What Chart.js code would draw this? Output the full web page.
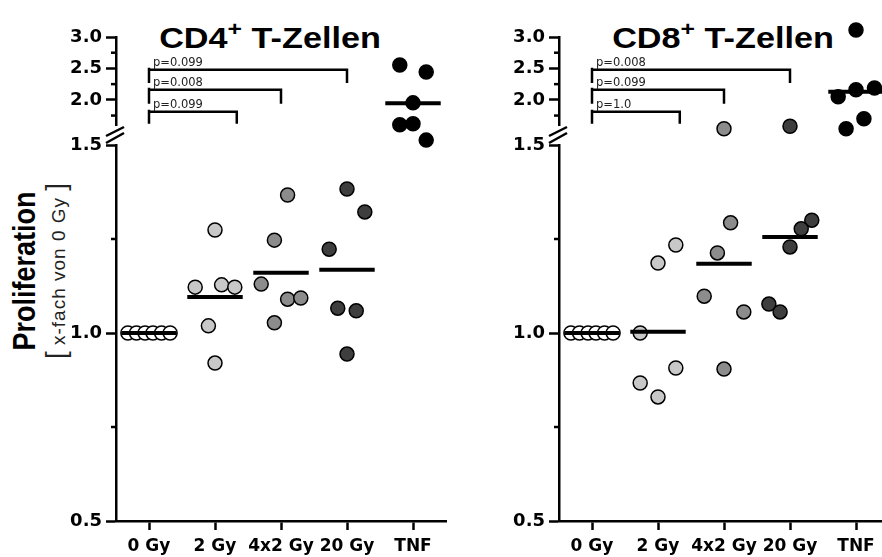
<!DOCTYPE html>
<html>
<head>
<meta charset="utf-8">
<script src="https://cdn.jsdelivr.net/npm/chart.js@4.4.1/dist/chart.umd.min.js"></script>
<style>
  body { margin: 0; background: #fff; width: 882px; height: 557px; overflow: hidden; position: relative; font-family: "Liberation Sans", Arial, sans-serif; color: #000; }
  canvas { position: absolute; top: 0; }
  .title { position: absolute; top: 15px; font-size: 29px; line-height: 29px; font-weight: bold; white-space: nowrap; transform: translateX(-50%) scaleX(1.18); }
  .title sup { font-size: 21px; position: relative; top: -1px; }
  .rot { position: absolute; white-space: nowrap; line-height: 1; transform: translate(-50%, -50%) rotate(-90deg) scaleY(1.18); }
  .br { font-size: 28px; font-weight: normal; letter-spacing: 0; }
</style>
</head>
<body>
<div class="title" style="left:270px">CD4<sup>+</sup> T-Zellen</div>
<div class="title" style="left:723px">CD8<sup>+</sup> T-Zellen</div>
<div class="rot" style="left:25px; top:271px; font-size:27px; font-weight:bold;">Proliferation</div>
<div class="rot" style="left:56px; top:271px; font-size:19px; letter-spacing:1px; color:#222; transform: translate(-50%, -50%) rotate(-90deg);"><span class="br">[</span> x-fach von 0 Gy <span class="br">]</span></div>

<canvas id="cd4Low" width="460" height="557" style="left:0"></canvas>
<canvas id="cd4Up" width="460" height="160" style="left:0"></canvas>
<canvas id="cd8Low" width="460" height="557" style="left:443px"></canvas>
<canvas id="cd8Up" width="460" height="160" style="left:443px"></canvas>

<script>
const categories = ["0 Gy", "2 Gy", "4x2 Gy", "20 Gy", "TNF"];
const groupFill = ["#ffffff", "#c8c8c8", "#8c8c8c", "#3e3e3e", "#000000"];

/* CD4 values (x-fach von 0 Gy), one row per group */
const cd4Values = [
  [1, 1, 1, 1, 1, 1],
  [1.274, 1.122, 1.128, 1.122, 1.019, 0.92],
  [1.367, 1.247, 1.13, 1.09, 1.093, 1.027],
  [1.383, 1.322, 1.223, 1.066, 1.059, 0.944],
  [2.556, 2.444, 1.952, 1.603, 1.619, 1.513]
];
const cd4Jitter = [
  [-0.32, -0.19, -0.06, 0.06, 0.19, 0.32],
  [0, -0.3, 0.1, 0.3, -0.1, 0],
  [0.1, -0.1, -0.3, 0.1, 0.3, -0.1],
  [0, 0.27, -0.27, -0.14, 0.14, 0],
  [-0.2, 0.2, 0, -0.2, 0, 0.2]
];
const cd4Means = [1.0, 1.096, 1.16, 1.168, 1.948];
const cd4PValues = ["p=0.099", "p=0.008", "p=0.099"];

/* CD8 values */
const cd8Values = [
  [1, 1, 1, 1, 1, 1],
  [1.0, 1.186, 1.234, 0.907, 0.867, 0.83],
  [1.293, 1.213, 1.098, 1.056, 0.904, 1.54],
  [1.30, 1.277, 1.229, 1.077, 1.056, 1.58],
  [3.11, 2.05, 2.16, 2.19, 1.54, 1.70]
];
const cd8Jitter = [
  [-0.32, -0.19, -0.06, 0.06, 0.19, 0.32],
  [-0.27, 0, 0.27, 0.27, -0.27, 0],
  [0.1, -0.1, -0.3, 0.3, 0, 0],
  [0.33, 0.17, 0, -0.32, -0.15, 0],
  [0, -0.27, 0, 0.28, -0.15, 0.12]
];
const cd8Means = [1.0, 1.003, 1.184, 1.255, 2.13];
const cd8PValues = ["p=0.008", "p=0.099", "p=1.0"];

/* comparison brackets, all from 0 Gy */
const bracketEnd = [3, 2, 1.33];
const bracketLevel = [2.48, 2.16, 1.81];
const bracketFoot = [2.27, 1.94, 1.62];

/* axis ticks */
const lowTicks = [0.5, 0.75, 1, 1.25, 1.5];
const lowLabels = [0.5, 1, 1.5];
const upTicks = [1.75, 2, 2.25, 2.5, 2.75, 3];
const upLabels = [2, 2.5, 3];
const breakAt = 1.525;

Chart.defaults.font.family = "'DejaVu Sans', sans-serif";
Chart.defaults.color = "#000";

function scatterSets(values, jitter, upper) {
  return values.map((vals, i) => ({
    data: vals.map((v, j) => ({ x: i + jitter[i][j], y: v }))
              .filter(p => upper ? p.y > breakAt : p.y <= breakAt),
    backgroundColor: groupFill[i],
    borderColor: "#000",
    borderWidth: 1.5,
    pointRadius: 7,
    clip: false,
    order: 2
  }));
}

function meanSets(means, upper) {
  return means.map((m, i) => ({
    data: (upper ? m > breakAt : m <= breakAt) ? [{ x: i - 0.42, y: m }, { x: i + 0.42, y: m }] : [],
    showLine: true,
    pointRadius: 0,
    borderColor: "#000",
    borderWidth: 4,
    borderCapStyle: "butt",
    clip: false,
    order: 1
  }));
}

function yAxis(min, max, ticks, labels) {
  return {
    type: "linear", min, max,
    afterBuildTicks: s => { s.ticks = ticks.map(v => ({ value: v })); },
    afterFit: s => { s.width = 116; },
    ticks: {
      autoSkip: false, padding: 4,
      font: { size: 18, weight: "bold" },
      callback: v => labels.includes(v) ? v.toFixed(1) : ""
    },
    grid: {
      drawOnChartArea: false, tickLength: 10, tickWidth: 2.5, color: "#000",
      tickColor: c => labels.includes(c.tick.value) ? "#000" : "rgba(0,0,0,0)"
    },
    border: { color: "#000", width: 2.5 }
  };
}

/* short minor ticks */
const minorTicks = {
  id: "minorTicks",
  afterDraw(chart) {
    const s = chart.scales.y, ctx = chart.ctx;
    ctx.save();
    ctx.strokeStyle = "#000";
    ctx.lineWidth = 2.5;
    s.ticks.forEach(t => {
      if (t.label !== "") return;
      const y = s.getPixelForValue(t.value);
      ctx.beginPath();
      ctx.moveTo(s.right - 5, y);
      ctx.lineTo(s.right, y);
      ctx.stroke();
    });
    ctx.restore();
  }
};

/* axis break marks */
const axisBreak = {
  id: "axisBreak",
  afterDraw(chart) {
    const ctx = chart.ctx, x = chart.chartArea.left, top = chart.scales.y.top;
    ctx.save();
    ctx.strokeStyle = "#000";
    ctx.lineWidth = 2.5;
    [[9, 18], [2, 12]].forEach(([a, b]) => {
      ctx.beginPath();
      ctx.moveTo(x - 10, top - a);
      ctx.lineTo(x + 8, top - b);
      ctx.stroke();
    });
    ctx.restore();
  }
};

function bracketPlugin(labels) {
  return {
    id: "brackets",
    afterDatasetsDraw(chart) {
      const ctx = chart.ctx, xs = chart.scales.x, ys = chart.scales.y;
      ctx.save();
      ctx.strokeStyle = "#000";
      ctx.fillStyle = "#222";
      ctx.lineWidth = 2.5;
      ctx.font = "11.5px 'DejaVu Sans'";
      ctx.textBaseline = "alphabetic";
      labels.forEach((lab, i) => {
        const x0 = xs.getPixelForValue(0), x1 = xs.getPixelForValue(bracketEnd[i]);
        const y = ys.getPixelForValue(bracketLevel[i]), f = ys.getPixelForValue(bracketFoot[i]);
        ctx.beginPath();
        ctx.moveTo(x0, f);
        ctx.lineTo(x0, y - 2);
        ctx.moveTo(x0, y);
        ctx.lineTo(x1, y);
        ctx.lineTo(x1, f);
        ctx.stroke();
        ctx.fillText(lab, x0 + 4, y - 4);
      });
      ctx.restore();
    }
  };
}

function lowerChart(id, values, jitter, means) {
  return new Chart(document.getElementById(id), {
    type: "scatter",
    data: { datasets: meanSets(means, false).concat(scatterSets(values, jitter, false)) },
    options: {
      responsive: false, animation: false, events: [],
      layout: { padding: { left: 0, top: 145, right: 14, bottom: 0 } },
      plugins: { legend: { display: false }, tooltip: { enabled: false } },
      scales: {
        x: {
          type: "linear", min: -0.5, max: 4.5,
          afterBuildTicks: s => { s.ticks = categories.map((c, i) => ({ value: i })); },
          afterFit: s => { s.height = 36; },
          ticks: { autoSkip: false, maxRotation: 0, padding: 6, font: { size: 17, weight: "bold" }, callback: v => categories[v] },
          grid: { drawOnChartArea: false, tickLength: 9, tickWidth: 2.5, color: "#000", tickColor: "#000" },
          border: { color: "#000", width: 2.5 }
        },
        y: yAxis(0.5, 1.5, lowTicks, lowLabels)
      }
    },
    plugins: [minorTicks, axisBreak]
  });
}

function upperChart(id, values, jitter, means, pLabels) {
  return new Chart(document.getElementById(id), {
    type: "scatter",
    data: { datasets: meanSets(means, true).concat(scatterSets(values, jitter, true)) },
    options: {
      responsive: false, animation: false, events: [],
      layout: { padding: { left: 0, top: 37, right: 14, bottom: 35 } },
      plugins: { legend: { display: false }, tooltip: { enabled: false } },
      scales: {
        x: { type: "linear", min: -0.5, max: 4.5, display: false },
        y: yAxis(1.6, 3.0, upTicks, upLabels)
      }
    },
    plugins: [minorTicks, bracketPlugin(pLabels)]
  });
}

lowerChart("cd4Low", cd4Values, cd4Jitter, cd4Means);
upperChart("cd4Up", cd4Values, cd4Jitter, cd4Means, cd4PValues);
lowerChart("cd8Low", cd8Values, cd8Jitter, cd8Means);
upperChart("cd8Up", cd8Values, cd8Jitter, cd8Means, cd8PValues);
</script>
</body>
</html>
